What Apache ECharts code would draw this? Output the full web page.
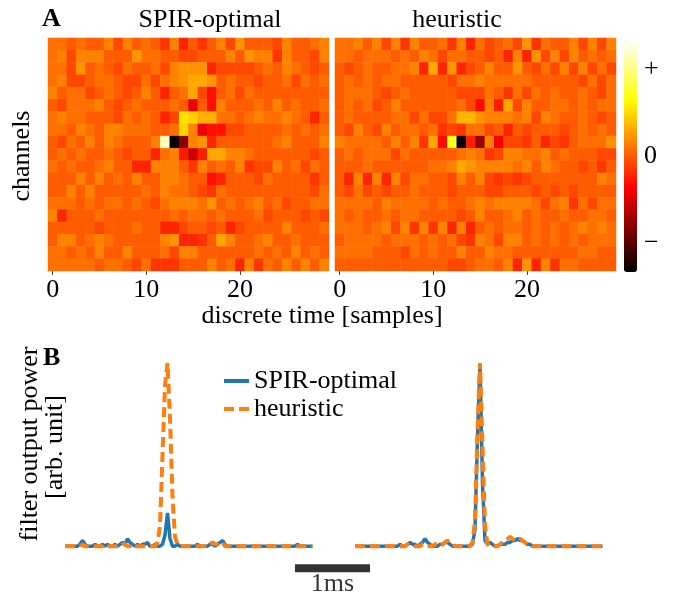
<!DOCTYPE html>
<html><head><meta charset="utf-8">
<script src="https://cdn.jsdelivr.net/npm/echarts@6/dist/echarts.min.js"></script>
<style>html,body{margin:0;padding:0;background:#fff}#c{width:673px;height:596px}</style>
</head><body><div id="c"></div>
<script>
// ---- Data (heatmap values in hundredths, arbitrary units) ----
const timeSamples = [0,1,2,3,4,5,6,7,8,9,10,11,12,13,14,15,16,17,18,19,20,21,22,23,24,25,26,27,28,29];
const channels = [0,1,2,3,4,5,6,7,8,9,10,11,12,13,14,15,16,17,18];
const xTickLabels = [0,10,20];
const colorbarTicks = [-100,0,100];
const colorbarTickText = ['\u2212','0','+'];
const colorRange = [-133,133];

const spirOptimalMap = [
[8,8,0,8,0,0,15,-8,15,0, 8,0,-15,15,-22,0,-15,0,15,-8, 22,0,0,0,-8,15,0,0,8,15],
[8,15,-8,15,15,15,0,0,0,22, 8,8,0,0,-8,-8,0,0,0,15, 0,22,15,15,-15,15,0,0,-8,15],
[8,8,-8,22,0,8,0,-8,8,0, 0,8,-8,15,22,22,22,-22,-8,-8, -8,-8,0,8,0,15,8,0,-8,0],
[8,15,-8,-8,0,8,8,0,-8,-8, 8,-8,8,15,22,30,30,22,0,8, 0,0,-8,0,0,8,-8,8,0,8],
[15,0,8,8,-8,0,8,0,-8,0, 15,0,-22,0,8,30,-8,-30,0,8, -8,8,0,0,0,0,0,0,0,0],
[0,-8,8,8,8,15,0,-8,0,8, 0,0,0,8,0,-42,0,-30,15,0, 0,0,8,0,15,0,8,0,0,8],
[8,15,8,8,0,0,0,-8,8,0, 8,0,-22,-8,52,46,34,34,8,8, 0,8,15,8,8,15,8,0,-22,0],
[8,8,0,15,8,0,15,15,8,8, 8,0,0,8,48,15,-42,-30,-30,-8, -8,0,0,0,0,8,0,8,0,8],
[0,-8,8,0,15,0,15,8,0,0, 0,15,116,-128,-80,15,22,-22,0,0, 0,0,0,0,8,15,0,0,0,15],
[0,8,0,8,0,0,8,0,-8,0, 0,-22,8,15,-26,-55,-25,30,30,15, 15,8,0,0,0,0,0,0,-8,0],
[8,0,8,0,0,8,15,0,0,-22, -22,15,15,15,0,-15,15,0,8,0, 15,-15,-8,-8,15,0,8,-8,8,0],
[0,0,0,15,0,15,0,8,0,15, 0,0,15,15,8,0,0,-30,-22,0, 0,0,-8,8,0,0,0,0,-15,0],
[0,0,15,0,15,0,0,0,0,0, 8,0,15,8,8,0,-8,-15,8,0, 0,0,0,0,0,0,0,0,-8,8],
[8,8,8,0,8,0,8,8,0,8, 0,-8,8,15,15,15,8,22,0,8, 0,8,15,0,8,-8,0,0,8,8],
[15,-22,0,0,0,8,0,0,0,0, 0,0,0,8,0,8,8,0,8,0, 0,0,8,-8,0,0,0,-8,0,-8],
[0,0,0,0,0,-8,0,0,0,8, 0,0,-22,-22,-8,0,0,-8,0,-22, -8,0,0,0,0,15,0,0,0,8],
[0,15,15,0,8,15,8,0,0,0, 0,0,15,22,-22,-22,-15,0,30,15, 0,0,8,15,0,0,8,0,0,0],
[8,8,0,8,0,15,0,0,15,0, 0,0,8,-8,15,15,0,0,0,0, 0,0,8,0,8,0,15,0,8,0],
[8,8,8,8,8,0,8,8,0,-8, 8,-15,-15,-15,0,0,0,15,0,8, -22,15,-15,8,0,15,0,15,0,15]
];

const heuristicMap = [
[8,8,15,0,15,-8,15,-15,15,0, 0,8,-15,15,-22,8,-8,0,8,-8, 22,-15,8,0,0,15,-8,15,-8,15],
[8,8,0,8,8,8,0,8,0,15, 8,-8,8,8,0,0,-8,0,-22,15, -22,22,-8,15,-8,15,0,8,0,8],
[0,-8,0,8,0,0,8,8,15,-22, 30,-22,22,-22,-8,0,15,0,0,22, 0,-8,8,-8,15,-8,15,-8,8,-8],
[0,8,0,8,0,8,8,0,0,0, 0,0,-8,8,8,15,8,8,8,8, 8,0,0,0,0,0,-8,8,-8,8],
[0,8,8,8,0,-8,0,8,0,0, 0,0,0,-8,-8,-8,8,0,-15,8, -8,8,0,8,0,0,8,0,-8,8],
[0,8,0,8,-8,0,15,0,0,0, 0,0,0,8,-8,-32,15,-25,30,-8, 15,0,0,8,8,0,8,0,8,8],
[0,8,0,0,0,0,8,8,-8,8, -8,-8,8,36,36,22,15,15,15,8, 15,-8,15,8,0,0,8,0,-8,0],
[0,-8,15,0,-8,15,0,8,8,0, 8,-15,-8,-15,8,8,-8,0,-22,0, -8,0,0,0,-8,0,8,0,8,0],
[15,8,8,8,8,0,15,0,15,-15, 30,-32,72,-130,-24,-75,15,-38,-8,-8, -15,0,-22,-8,-15,0,8,8,8,22],
[0,8,0,8,8,8,-8,8,0,0, 0,0,0,8,15,8,-15,-8,15,15, 8,8,15,0,8,0,0,0,-8,-8],
[0,0,0,8,0,0,0,0,0,0, 8,8,15,30,22,15,15,15,15,8, 15,0,15,8,0,0,-8,0,-15,0],
[0,-22,15,-22,15,-22,15,-8,8,8, 0,0,-8,15,0,15,-8,-15,-8,-15, -8,0,0,0,0,0,0,0,15,8],
[0,-8,8,-8,0,-8,0,0,8,0, 0,0,-8,0,0,0,-8,-8,0,0, 0,-8,0,-8,0,-8,0,0,0,0],
[8,8,8,8,0,15,8,8,8,8, 0,8,0,0,8,15,8,15,15,15, 15,8,-8,8,15,-15,8,-8,8,8],
[8,0,8,0,0,8,0,8,8,0, 0,0,0,-8,0,15,0,0,8,15, 0,8,0,0,8,0,0,8,8,0],
[8,8,8,0,8,15,-8,15,-15,15, -15,15,-22,15,-22,0,8,0,8,8, 0,8,0,8,0,8,15,8,15,8],
[0,8,8,8,8,0,8,8,8,0, 8,0,8,-8,-15,15,8,-8,15,15, 0,8,0,8,0,8,0,8,8,8],
[8,8,8,8,0,0,0,-8,8,0, 8,0,0,15,0,0,15,8,8,0, 0,0,0,0,0,0,8,8,0,0],
[0,0,0,0,0,0,0,0,0,0, 0,0,-8,-8,0,8,8,0,15,-22, 22,-22,15,-15,8,8,0,0,0,0]
];

// Filter output power (arb. units), two recording windows
const spirLeft = [
.01,.01,.01,.01,.01,.01,.02,.04,.02,.01, .01,.01,.02,.01,.01,.02,.01,.02,.01,.01,
.02,.01,.02,.03,.02,.05,.03,.02,.01,.02, .01,.02,.02,.03,.01,.01,.02,.01,.01,.02,
.07,.19,.05,.01,.01,.02,.01,.01,.01,.01, .01,.01,.01,.02,.01,.01,.01,.01,.02,.02,
.01,.02,.03,.04,.02,.01,.01,.01,.01,.01, .01,.01,.01,.01,.01,.01,.01,.01,.01,.01,
.01,.01,.01,.01,.01,.01,.01,.01,.01,.01, .01,.01,.01,.02,.01,.01,.01,.01,.01,.01];
const heurLeft = [
.01,.01,.01,.01,.01,.01,.01,.02,.01,.01, .01,.01,.01,.01,.01,.01,.02,.01,.01,.01,
.01,.01,.01,.02,.02,.01,.01,.02,.01,.01, .01,.01,.01,.01,.01,.01,.01,.03,.12,.50,
.88,1.0,.70,.28,.06,.02,.01,.01,.01,.01, .01,.01,.01,.01,.01,.01,.01,.02,.02,.03,
.02,.02,.03,.03,.01,.01,.01,.01,.01,.01, .01,.01,.01,.01,.01,.01,.01,.01,.01,.01,
.01,.01,.01,.01,.01,.01,.01,.01,.01,.01, .01,.01,.01,.01,.01,.01,.01,.01,.01,.01];
const spirRight = [
.01,.01,.01,.01,.01,.01,.01,.01,.01,.01, .01,.01,.01,.01,.01,.01,.01,.01,.02,.01,
.01,.02,.03,.02,.02,.01,.02,.03,.05,.03, .02,.01,.01,.01,.02,.02,.03,.03,.02,.01,
.01,.01,.01,.01,.01,.01,.01,.02,.10,.60, 1.0,.35,.04,.02,.03,.02,.01,.01,.02,.02,
.02,.03,.03,.04,.04,.05,.04,.04,.03,.02, .02,.01,.01,.01,.01,.01,.01,.01,.01,.01,
.01,.01,.01,.01,.01,.01,.01,.01,.01,.01, .01,.01,.01,.01,.01,.01,.01,.01,.01,.01];
const heurRight = [
.01,.01,.01,.01,.01,.01,.01,.01,.01,.01, .01,.01,.01,.01,.01,.01,.01,.01,.01,.01,
.01,.02,.02,.02,.01,.01,.01,.02,.02,.01, .01,.01,.02,.02,.01,.02,.03,.04,.03,.02,
.01,.01,.01,.01,.01,.01,.01,.03,.15,.62, 1.0,.55,.12,.02,.01,.01,.01,.01,.02,.03,
.04,.05,.06,.05,.04,.05,.05,.04,.03,.02, .02,.01,.01,.01,.01,.01,.01,.01,.01,.01,
.01,.01,.01,.01,.01,.01,.01,.01,.01,.01, .01,.01,.01,.01,.01,.01,.01,.01,.01,.01];
const leftStart = 0, rightStart = 116;   // sample offsets of the two windows
const samplesPerMs = 30;
const scaleBarStart = 92;
const scaleBarLevel = -0.11;

// ---- helpers ----
function hot(f){
  const r = Math.min(1, Math.max(0, f/0.365));
  const g = Math.min(1, Math.max(0, (f-0.365)/0.376));
  const b = Math.min(1, Math.max(0, (f-0.741)/0.259));
  const h = v => Math.round(v*255).toString(16).padStart(2,'0');
  return '#'+h(r)+h(g)+h(b);
}
const hotColors = [];
for (let i=0;i<=64;i++) hotColors.push(hot(i/64));

function cells(map){
  const out=[];
  map.forEach((row,r)=>row.forEach((v,c)=>out.push([c,r,v])));
  return out;
}
function linePts(left,right){
  const out=[];
  left.forEach((v,i)=>out.push([leftStart+i,v]));
  out.push([leftStart+left.length+8,'-']);
  right.forEach((v,i)=>out.push([rightStart+i,v]));
  return out;
}

const FONT = 'Liberation Serif';
const tickShow = (i)=> xTickLabels.indexOf(timeSamples[i])>=0;
function heatX(gi){
  return {type:'category', gridIndex:gi, data:timeSamples,
    axisLine:{show:false},
    axisTick:{show:true, alignWithLabel:true, interval:tickShow, length:4, lineStyle:{color:'#444'}},
    axisLabel:{interval:tickShow, color:'#000', fontFamily:FONT, fontSize:26, margin:6},
    splitLine:{show:false}};
}
function heatY(gi){
  return {type:'category', gridIndex:gi, data:channels, inverse:true, show:false};
}

const chart = echarts.init(document.getElementById('c'), null, {renderer:'canvas'});
chart.setOption({
  animation:false,
  backgroundColor:'#fff',
  textStyle:{fontFamily:FONT},
  grid:[
    {left:48, top:38, width:281, height:233},
    {left:335, top:38, width:281, height:233},
    {left:624, top:40, width:13, height:232},
    {left:65, right:70.5, top:335.25, bottom:25.8}
  ],
  xAxis:[heatX(0), heatX(1),
    {type:'value', gridIndex:2, show:false, min:0, max:1},
    {type:'value', gridIndex:3, show:false, min:0, max:215}],
  yAxis:[heatY(0), heatY(1),
    {type:'value', gridIndex:2, position:'right', min:colorRange[0], max:colorRange[1],
     axisLine:{show:false}, splitLine:{show:false},
     axisTick:{show:false},
     axisLabel:{show:true, customValues:colorbarTicks, margin:7, color:'#000', fontFamily:FONT, fontSize:26,
       formatter:(v)=>colorbarTickText[colorbarTicks.indexOf(v)] || ''}},
    {type:'value', gridIndex:3, show:false, min:-0.12, max:1.15}],
  visualMap:{type:'continuous', seriesIndex:[0,1], min:colorRange[0], max:colorRange[1],
    inRange:{color:hotColors}, left:624, top:40, itemWidth:13, itemHeight:232,
    padding:0, calculable:false, text:null, showLabel:false, hoverLink:false, orient:'vertical'},
  legend:{data:['SPIR-optimal','heuristic'], orient:'vertical', left:222, top:368,
    itemWidth:25, itemHeight:14, itemGap:2, padding:0,
    itemStyle:{opacity:0, borderWidth:0},
    lineStyle:{width:4},
    textStyle:{fontFamily:FONT, fontSize:26, color:'#000', lineHeight:26}},
  graphic:[
    {type:'text', left:42, top:6, style:{text:'A', font:'bold 26px "Liberation Serif"', fill:'#000'}},
    {type:'text', x:210, y:20, style:{text:'SPIR-optimal', font:'26px "Liberation Serif"', fill:'#000', align:'center', verticalAlign:'middle'}},
    {type:'text', x:457, y:20, style:{text:'heuristic', font:'26px "Liberation Serif"', fill:'#000', align:'center', verticalAlign:'middle'}},
    {type:'text', x:22, y:156, rotation:Math.PI/2, style:{text:'channels', font:'26px "Liberation Serif"', fill:'#000', align:'center', verticalAlign:'middle'}},
    {type:'text', x:322, y:316, style:{text:'discrete time [samples]', font:'26px "Liberation Serif"', fill:'#000', align:'center', verticalAlign:'middle'}},
    {type:'text', left:43, top:345, style:{text:'B', font:'bold 26px "Liberation Serif"', fill:'#000'}},
    {type:'text', x:30, y:444, rotation:Math.PI/2, style:{text:'filter output power', font:'26px "Liberation Serif"', fill:'#000', align:'center', verticalAlign:'middle'}},
    {type:'text', x:55, y:447, rotation:Math.PI/2, style:{text:'[arb. unit]', font:'26px "Liberation Serif"', fill:'#000', align:'center', verticalAlign:'middle'}}
  ],
  series:[
    {type:'heatmap', xAxisIndex:0, yAxisIndex:0, data:cells(spirOptimalMap), itemStyle:{borderWidth:0}, emphasis:{disabled:true}},
    {type:'heatmap', xAxisIndex:1, yAxisIndex:1, data:cells(heuristicMap), itemStyle:{borderWidth:0}, emphasis:{disabled:true}},
    {type:'line', name:'SPIR-optimal', xAxisIndex:3, yAxisIndex:3, data:linePts(spirLeft, spirRight),
      symbol:'none', connectNulls:false, color:'#1f77b4', lineStyle:{width:3.5, color:'#1f77b4'}, z:3},
    {type:'line', name:'heuristic', xAxisIndex:3, yAxisIndex:3, data:linePts(heurLeft, heurRight),
      symbol:'none', connectNulls:false, color:'#ff7f0e', lineStyle:{width:4, color:'#ff7f0e', type:[10,5]}, z:4},
    {type:'line', name:'scalebar', xAxisIndex:3, yAxisIndex:3, silent:true,
      data:[[scaleBarStart, scaleBarLevel],[scaleBarStart+samplesPerMs, scaleBarLevel]],
      symbol:'none', lineStyle:{width:8, color:'#333', cap:'butt'}, z:2},
    {type:'scatter', name:'scalebarLabel', xAxisIndex:3, yAxisIndex:3, silent:true,
      data:[[scaleBarStart+samplesPerMs/2, scaleBarLevel]], symbolSize:0,
      label:{show:true, position:'bottom', distance:3, formatter:'1ms', color:'#000', fontFamily:FONT, fontSize:26}}
  ]
});
</script></body></html>
